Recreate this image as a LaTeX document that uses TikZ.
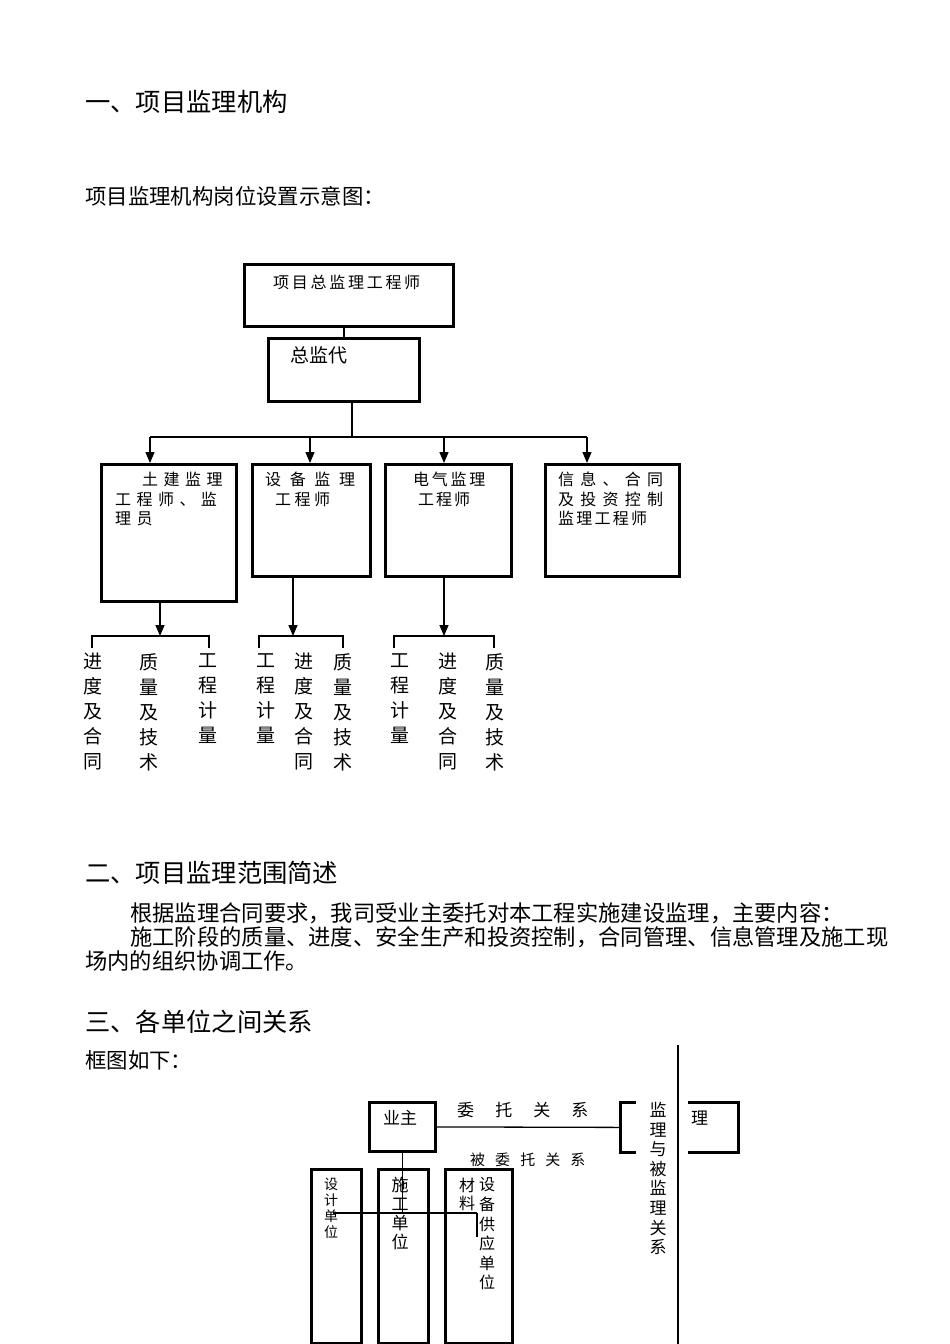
\documentclass[tikz,border=0pt]{standalone}
\usepackage{fontspec}
\setmainfont{Noto Sans CJK SC}
\usetikzlibrary{arrows.meta,positioning}
\newcommand\charsep[1]{\addfontfeatures{LetterSpace=#1}}
\begin{document}
\begin{tikzpicture}
		[x=1pt,y=-1pt,
		box/.style={draw,line width=2.8pt,inner sep=0pt,anchor=north west},
		head/.style={anchor=west,inner sep=0pt,font=\fontsize{25.3}{30}\selectfont},
		sub/.style={anchor=west,inner sep=0pt,font=\fontsize{21.4}{26}\selectfont},
		boxtext/.style={anchor=north west,inner sep=0pt,align=left,font=\fontsize{16}{19.5}\selectfont},
		col/.style={anchor=north,inner sep=0pt,align=center,font=\fontsize{19}{25}\selectfont},
		vtext/.style={anchor=north,inner sep=0pt,align=center},
		arr/.style={-{Triangle[length=11pt,width=9pt]},line width=1.3pt},
		bus/.style={line width=2.6pt},
		thinline/.style={line width=1.3pt},]
		\useasboundingbox (0,0) rectangle (950,1344);
		% headings
		\node[head](h1) at (85,102){一、项目监理机构};
		\node[sub](h1s) at (85,196){项目监理机构岗位设置示意图：};
		% organisation chart
		\node[box,minimum width=209pt,minimum height=62pt](zj) at (243,263){};
		\node[anchor=west,inner sep=0pt,font=\fontsize{16}{19}\selectfont\charsep{17}](zjt) at (273,282){项目总监理工程师};
		\node[box,minimum width=151pt,minimum height=63pt](zjd) at (267,337){};
		\node[anchor=west,inner sep=0pt,font=\fontsize{19}{22}\selectfont](zjdt) at (290,355){总监代};
		\node[box,minimum width=135pt,minimum height=137pt](tj) at (100,463){};
		\node[box,minimum width=118pt,minimum height=112pt](sb) at (251,463){};
		\node[box,minimum width=126pt,minimum height=112pt](dq) at (384,463){};
		\node[box,minimum width=134pt,minimum height=112pt](xx) at (544,463){};
		\node[boxtext](tjt) at (115,472){\charsep{34}\hspace*{27pt}土建监理\\\charsep{34}工程师、监\\\charsep{34}理员};
		\node[boxtext](sbt) at (265,472){\charsep{54}设备监理\\\charsep{22}\hspace*{10pt}工程师};
		\node[boxtext](dqt) at (413,472){\charsep{17}电气监理\\\charsep{12}\hspace*{5pt}工程师};
		\node[boxtext](xxt) at (558,472){\charsep{39}信息、合同\\\charsep{39}及投资控制\\\charsep{14}监理工程师};
		\draw[thinline](zjd.north)--(zjd.north|-zj.south);
		\coordinate(bc) at (352,437);
		\coordinate(b1) at (150,437);
		\coordinate(b2) at (310,437);
		\coordinate(b3) at (444,437);
		\coordinate(b4) at (587,437);
		\draw[bus](bc|-zjd.south)--(bc);
		\draw[bus](b1)--(b4);
		\draw[arr](b1)--(b1|-tj.north);
		\draw[arr](b2)--(b2|-sb.north);
		\draw[arr](b3)--(b3|-dq.north);
		\draw[arr](b4)--(b4|-xx.north);
		% lower branches
		\coordinate(t1) at (160,636);
		\coordinate(t2) at (293,636);
		\coordinate(t3) at (444,636);
		\coordinate(g1a) at (92,648);
		\coordinate(g1b) at (209,648);
		\coordinate(g2a) at (259,648);
		\coordinate(g2b) at (343,648);
		\coordinate(g3a) at (394,648);
		\coordinate(g3b) at (494,648);
		\draw[arr](tj.south-|t1)--(t1);
		\draw[arr](sb.south-|t2)--(t2);
		\draw[arr](dq.south-|t3)--(t3);
		\draw[bus](g1a)|-(t1)-|(g1b);
		\draw[bus](g2a)|-(t2)-|(g2b);
		\draw[bus](g3a)|-(t3)-|(g3b);
		\node[col](c11) at (93,653){进\\度\\及\\合\\同};
		\node[col](c12) at (149,653){质\\量\\及\\技\\术};
		\node[col](c13) at (208,653){工\\程\\计\\量};
		\node[col](c21) at (266,653){工\\程\\计\\量};
		\node[col](c22) at (304,653){进\\度\\及\\合\\同};
		\node[col](c23) at (343,653){质\\量\\及\\技\\术};
		\node[col](c31) at (400,653){工\\程\\计\\量};
		\node[col](c32) at (448,653){进\\度\\及\\合\\同};
		\node[col](c33) at (495,653){质\\量\\及\\技\\术};
		% scope of supervision
		\node[head](h2) at (85,873){二、项目监理范围简述};
		\node[anchor=north west,inner sep=0pt,align=left,font=\fontsize{22.3}{24}\selectfont](p2) at (85,902){\hspace*{45pt}根据监理合同要求，我司受业主委托对本工程实施建设监理，主要内容：\\\hspace*{45pt}施工阶段的质量、进度、安全生产和投资控制，合同管理、信息管理及施工现\\场内的组织协调工作。};
		% relations between the parties
		\node[head](h3) at (85,1022){三、各单位之间关系};
		\node[sub](h3s) at (85,1060){框图如下：};
		\node[box,minimum width=66pt,minimum height=49pt](yz) at (368,1101){};
		\node[anchor=west,inner sep=0pt,font=\fontsize{17}{20}\selectfont](yzt) at (383,1118){业主};
		\node[box,minimum width=118pt,minimum height=50pt](jl) at (619,1101){};
		\fill[white](636,1097) rectangle (688,1156);
		\node[anchor=west,inner sep=0pt,font=\fontsize{17}{20}\selectfont](jlt) at (691,1118){理};
		\node[vtext,font=\fontsize{17}{19.6}\selectfont](gx) at (658,1102){监\\理\\与\\被\\监\\理\\关\\系};
		\draw[thinline](yz.east)--(jl.west);
		\node[anchor=west,inner sep=0pt,font=\fontsize{17}{20}\selectfont\charsep{124}](wt) at (457,1110){委托关系};
		\node[anchor=west,inner sep=0pt,font=\fontsize{15}{18}\selectfont\charsep{67}](bwt) at (470,1160){被委托关系};
		\node[box,minimum width=50pt,minimum height=174pt](sj) at (310,1168){};
		\node[box,minimum width=50pt,minimum height=174pt](sg) at (377,1168){};
		\node[box,minimum width=67pt,minimum height=174pt](cl) at (444,1168){};
		\node[vtext,font=\fontsize{14}{16}\selectfont](sjt) at (331,1177.5){设\\计\\单\\位};
		\node[vtext,font=\fontsize{17}{19}\selectfont](sgt) at (400,1177){施\\工\\单\\位};
		\node[vtext,font=\fontsize{16}{18}\selectfont](clt) at (467,1177.5){材\\料};
		\node[vtext,font=\fontsize{16}{19.6}\selectfont](sbgt) at (487,1177.5){设\\备\\供\\应\\单\\位};
		\coordinate(j0) at (333,1213);
		\coordinate(j2) at (477,1213);
		\coordinate(j3) at (477,1237);
		\draw[thinline](yz.south)--(yz.south|-j0);
		\draw[thinline](j0)--(j2);
		\draw[line width=2.2pt](j2)--(j3);
		\coordinate(lt) at (678,1045);
		\coordinate(lb) at (678,1344);
		\draw[thinline](lt)--(lb);
	\end{tikzpicture}
\end{document}
